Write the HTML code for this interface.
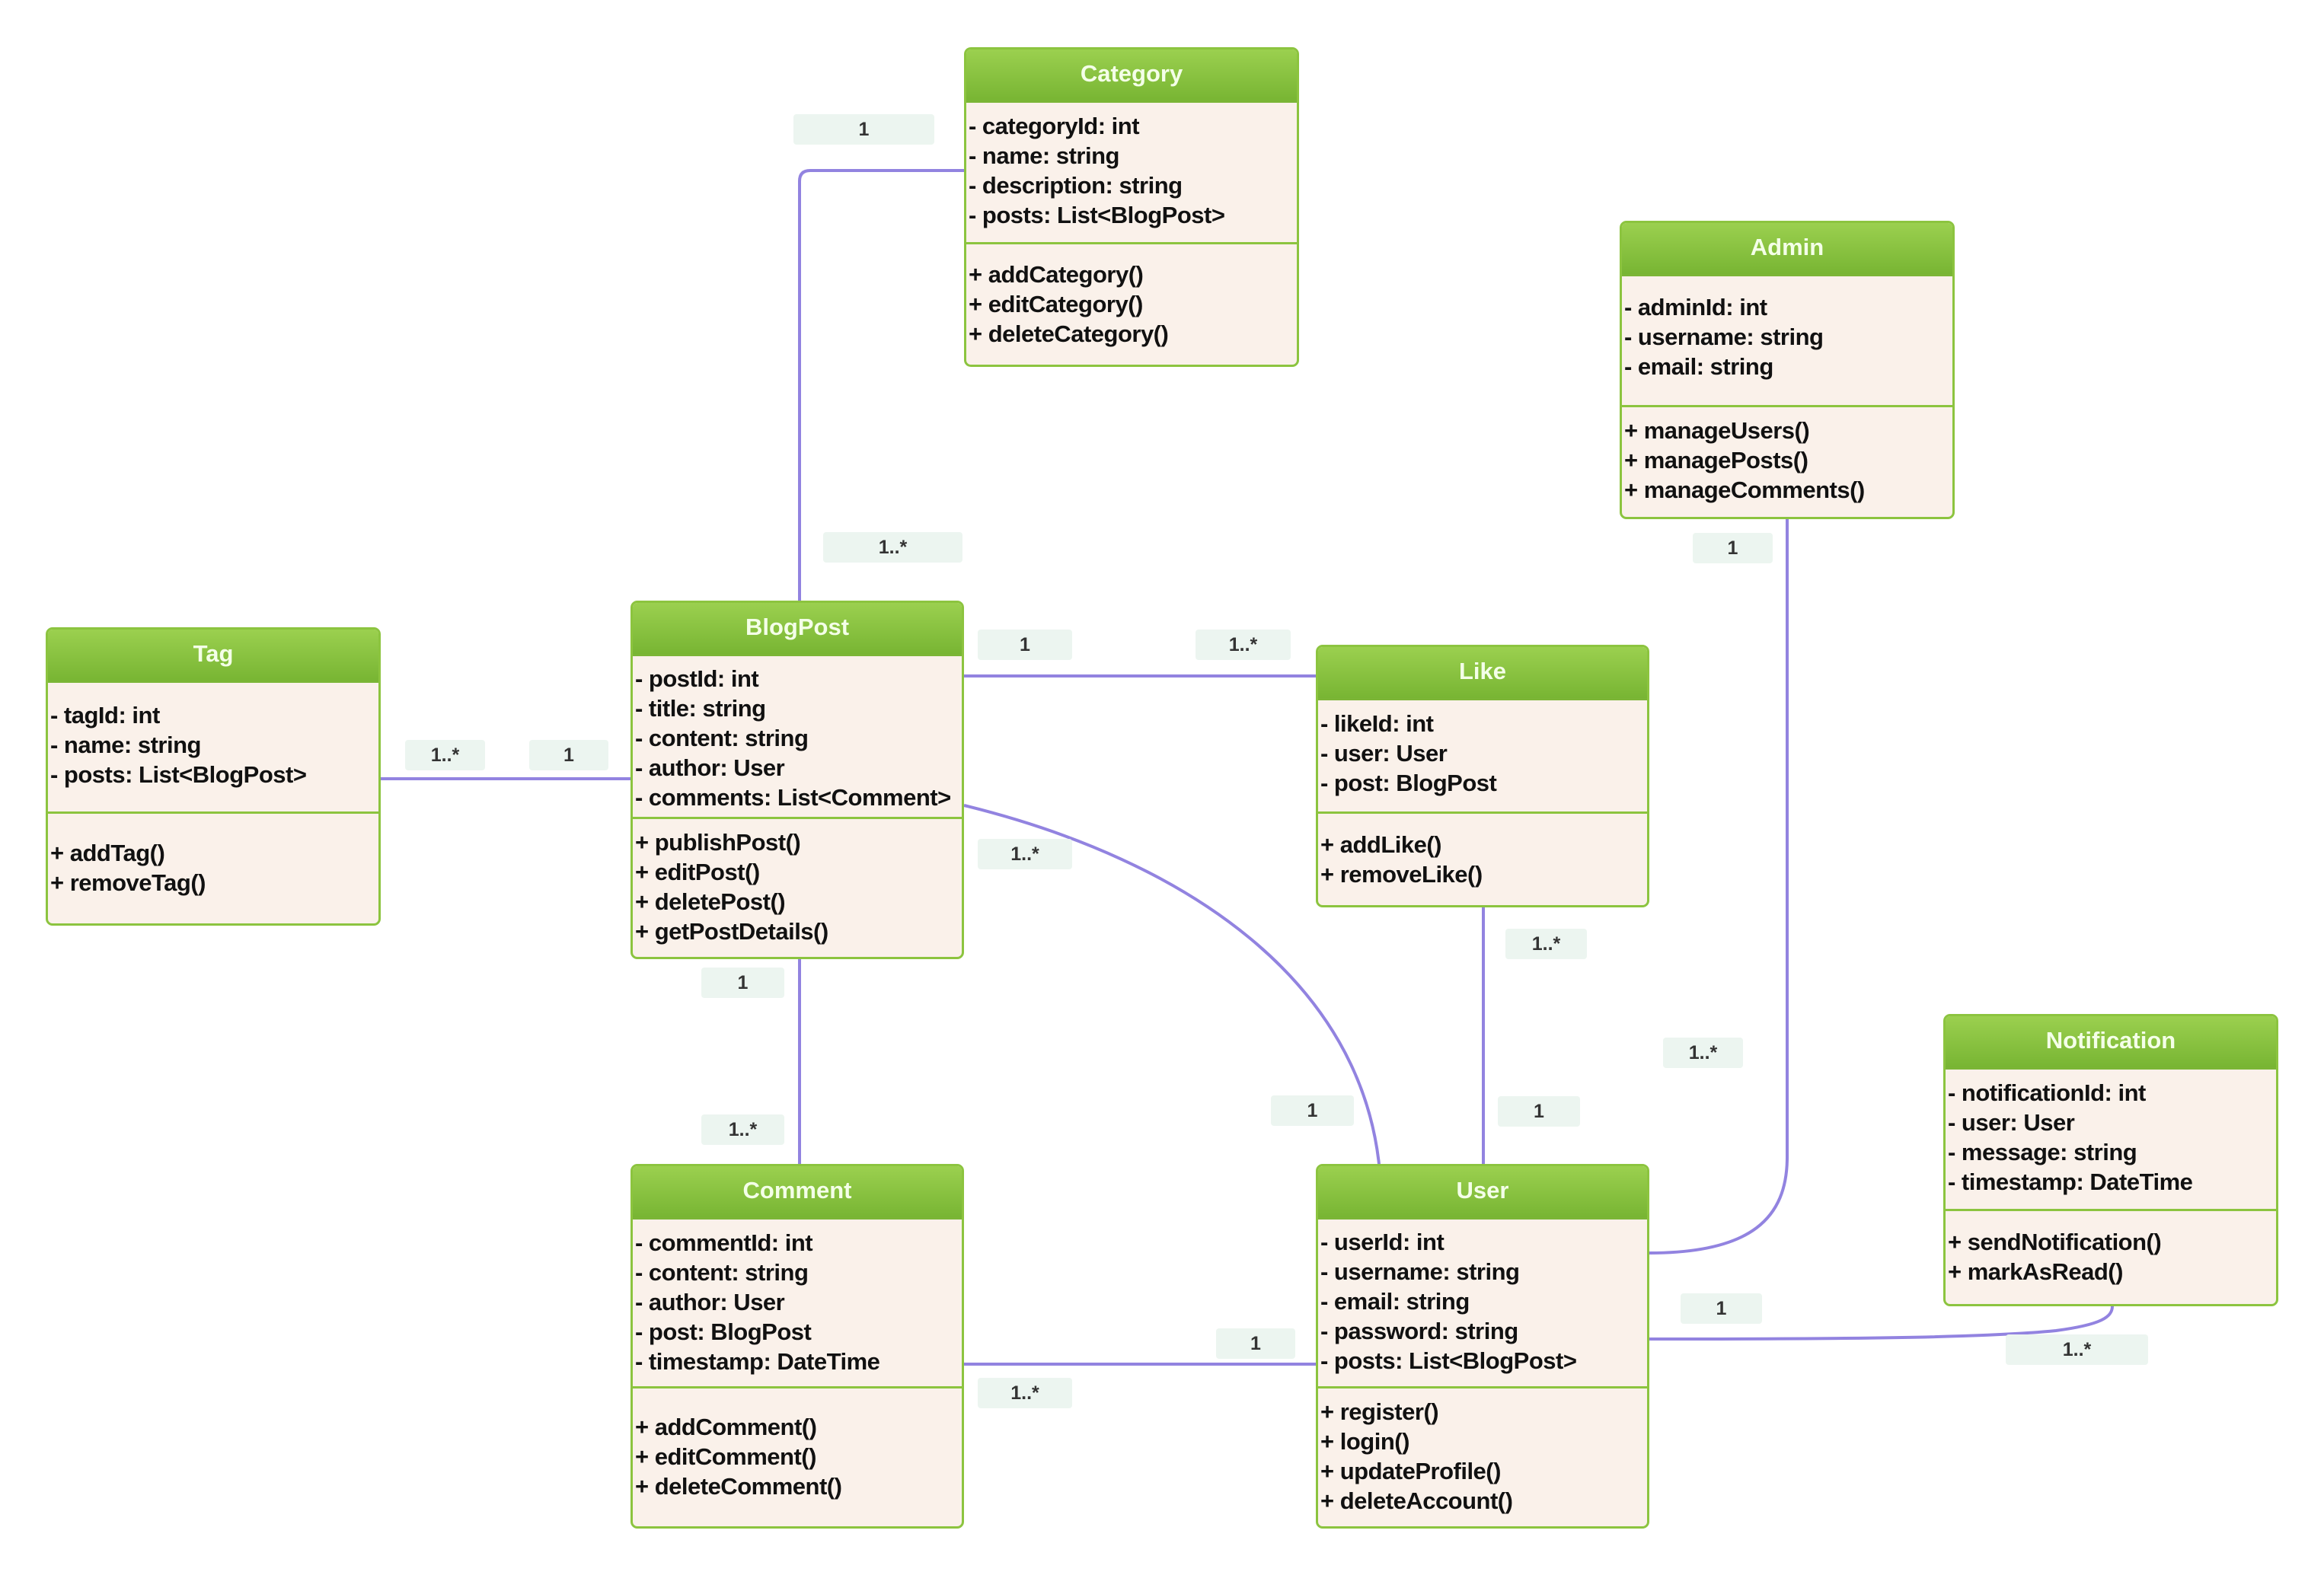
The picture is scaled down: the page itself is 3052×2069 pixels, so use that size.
<!DOCTYPE html>
<html><head><meta charset="utf-8"><style>
body{margin:0;width:3052px;height:2069px;background:#fff;position:relative;overflow:hidden;font-family:"Liberation Sans",sans-serif}
.b{position:absolute;box-sizing:border-box;border:3px solid #8cc43f;border-radius:9px;background:#faf1ea;overflow:hidden}
.h{height:67px;background:linear-gradient(#9bd04f,#78b533);color:#f4ffe8;font-weight:bold;font-size:31px;text-align:center;line-height:64px;border-bottom:3px solid #7bb536}
.a{box-sizing:border-box;border-bottom:3px solid #8cc43f;padding-left:3px}
.m{padding-left:3px}
.a div,.m div{font-size:31px;font-weight:bold;line-height:39px;color:#111;white-space:nowrap;letter-spacing:-0.5px}
.l{position:absolute;background:#ecf5f0;border-radius:4px;font-size:25px;font-weight:bold;color:#333;text-align:center;line-height:40px;height:40px}
svg{position:absolute;left:0;top:0}
</style></head><body>
<svg width="3052" height="2069"><g fill="none" stroke="#9283e0" stroke-width="4">
<path d="M1266 224 H1064 Q1050 224 1050 238 V789"/>
<path d="M500 1023 H828"/>
<path d="M1266 888 H1728"/>
<path d="M1266 1058 C1560 1130 1790 1290 1812 1539"/>
<path d="M1050 1260 V1529"/>
<path d="M1948 1192 V1529"/>
<path d="M2347 682 V1520 C2347 1600 2300 1646 2166 1646"/>
<path d="M1266 1792 H1728"/>
<path d="M2166 1759 C2400 1759 2600 1758 2700 1748 C2760 1740 2774 1730 2774 1716"/>
</g></svg>

<div class="b" style="left:1266px;top:62px;width:440px;height:420px"><div class="h">Category</div>
<div class="a" style="height:186px;padding-top:11px"><div>- categoryId: int</div><div>- name: string</div><div>- description: string</div><div>- posts: List&lt;BlogPost&gt;</div></div>
<div class="m" style="padding-top:20px"><div>+ addCategory()</div><div>+ editCategory()</div><div>+ deleteCategory()</div></div></div>

<div class="b" style="left:2127px;top:290px;width:440px;height:392px"><div class="h">Admin</div>
<div class="a" style="height:172px;padding-top:21px"><div>- adminId: int</div><div>- username: string</div><div>- email: string</div></div>
<div class="m" style="padding-top:11px"><div>+ manageUsers()</div><div>+ managePosts()</div><div>+ manageComments()</div></div></div>

<div class="b" style="left:60px;top:824px;width:440px;height:392px"><div class="h">Tag</div>
<div class="a" style="height:172px;padding-top:23px"><div>- tagId: int</div><div>- name: string</div><div>- posts: List&lt;BlogPost&gt;</div></div>
<div class="m" style="padding-top:32px"><div>+ addTag()</div><div>+ removeTag()</div></div></div>

<div class="b" style="left:828px;top:789px;width:438px;height:471px"><div class="h">BlogPost</div>
<div class="a" style="height:214px;padding-top:10px"><div>- postId: int</div><div>- title: string</div><div>- content: string</div><div>- author: User</div><div>- comments: List&lt;Comment&gt;</div></div>
<div class="m" style="padding-top:11px"><div>+ publishPost()</div><div>+ editPost()</div><div>+ deletePost()</div><div>+ getPostDetails()</div></div></div>

<div class="b" style="left:1728px;top:847px;width:438px;height:345px"><div class="h">Like</div>
<div class="a" style="height:149px;padding-top:11px"><div>- likeId: int</div><div>- user: User</div><div>- post: BlogPost</div></div>
<div class="m" style="padding-top:21px"><div>+ addLike()</div><div>+ removeLike()</div></div></div>

<div class="b" style="left:2552px;top:1332px;width:440px;height:384px"><div class="h">Notification</div>
<div class="a" style="height:186px;padding-top:11px"><div>- notificationId: int</div><div>- user: User</div><div>- message: string</div><div>- timestamp: DateTime</div></div>
<div class="m" style="padding-top:21px"><div>+ sendNotification()</div><div>+ markAsRead()</div></div></div>

<div class="b" style="left:828px;top:1529px;width:438px;height:479px"><div class="h">Comment</div>
<div class="a" style="height:222px;padding-top:11px"><div>- commentId: int</div><div>- content: string</div><div>- author: User</div><div>- post: BlogPost</div><div>- timestamp: DateTime</div></div>
<div class="m" style="padding-top:31px"><div>+ addComment()</div><div>+ editComment()</div><div>+ deleteComment()</div></div></div>

<div class="b" style="left:1728px;top:1529px;width:438px;height:479px"><div class="h">User</div>
<div class="a" style="height:222px;padding-top:10px"><div>- userId: int</div><div>- username: string</div><div>- email: string</div><div>- password: string</div><div>- posts: List&lt;BlogPost&gt;</div></div>
<div class="m" style="padding-top:11px"><div>+ register()</div><div>+ login()</div><div>+ updateProfile()</div><div>+ deleteAccount()</div></div></div>

<div class="l" style="left:1042px;top:150px;width:185px">1</div>
<div class="l" style="left:1081px;top:699px;width:183px">1..*</div>
<div class="l" style="left:532px;top:972px;width:105px">1..*</div>
<div class="l" style="left:695px;top:972px;width:104px">1</div>
<div class="l" style="left:1284px;top:827px;width:124px">1</div>
<div class="l" style="left:1570px;top:827px;width:125px">1..*</div>
<div class="l" style="left:1284px;top:1102px;width:124px">1..*</div>
<div class="l" style="left:1669px;top:1439px;width:109px">1</div>
<div class="l" style="left:921px;top:1271px;width:109px">1</div>
<div class="l" style="left:921px;top:1464px;width:109px">1..*</div>
<div class="l" style="left:1977px;top:1220px;width:107px">1..*</div>
<div class="l" style="left:1967px;top:1440px;width:108px">1</div>
<div class="l" style="left:2223px;top:700px;width:105px">1</div>
<div class="l" style="left:2184px;top:1363px;width:105px">1..*</div>
<div class="l" style="left:1597px;top:1745px;width:104px">1</div>
<div class="l" style="left:1284px;top:1810px;width:124px">1..*</div>
<div class="l" style="left:2207px;top:1699px;width:107px">1</div>
<div class="l" style="left:2634px;top:1753px;width:187px">1..*</div>
</body></html>
